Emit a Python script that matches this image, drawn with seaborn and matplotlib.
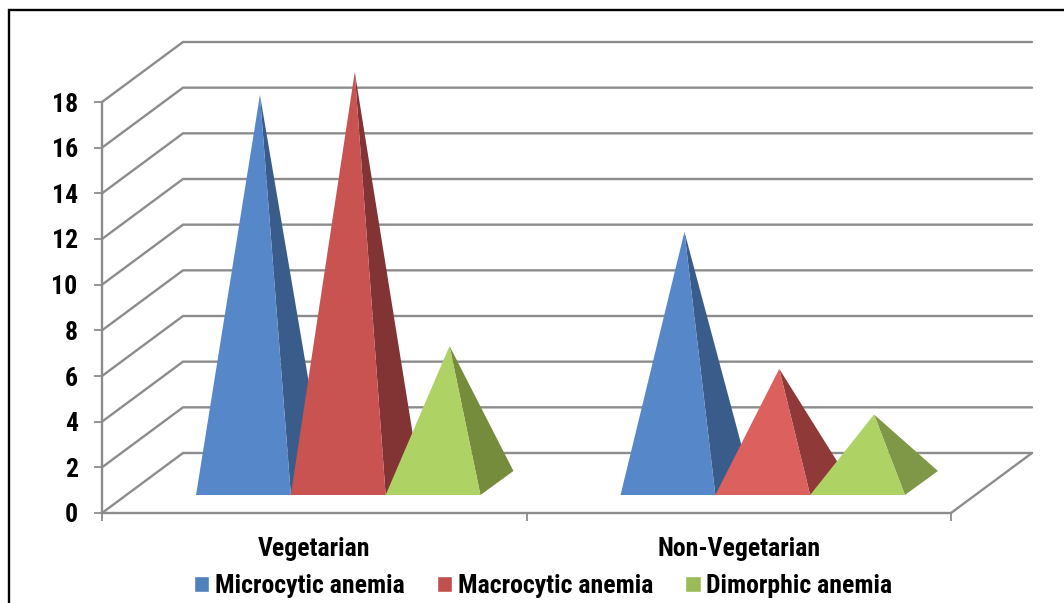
import pandas as pd
import seaborn as sns
import matplotlib.pyplot as plt
from matplotlib.lines import Line2D

categories = ["Vegetarian", "Non-Vegetarian"]
anemia_types = ["Microcytic anemia", "Macrocytic anemia", "Dimorphic anemia"]
microcytic = [17, 11]
macrocytic = [18, 5]
dimorphic = [6, 3]
y_ticks = [0, 2, 4, 6, 8, 10, 12, 14, 16, 18]

legend_colors = ["#4F81BD", "#C0504D", "#9BBB59"]
front_colors = [["#5587C9", "#5587C9"], ["#C95351", "#DC605D"], ["#AFD265", "#AFD265"]]
side_colors = [["#3A5C8A", "#3A5C8A"], ["#823333", "#8F3A38"], ["#758C3D", "#7F9848"]]
grid_color = "#8C8C8C"

W, H = 1064, 603
left, right, bottom, top = 102, 951, 513, 102

sns.set_style("white")
plt.rcParams["font.family"] = ["Roboto Condensed", "Liberation Sans", "DejaVu Sans"]

df = pd.DataFrame({
    "group": categories * 3,
    "kind": [k for k in anemia_types for _ in categories],
    "value": microcytic + macrocytic + dimorphic,
})

fig = plt.figure(figsize=(W / 100, H / 100), dpi=100)
ax = fig.add_axes([left / W, 1 - bottom / H, (right - left) / W, (bottom - top) / H])
sns.barplot(data=df, x="group", y="value", hue="kind", order=categories, hue_order=anemia_types,
            palette=legend_colors, width=0.67, gap=0, saturation=1, ax=ax)
ax.set_xlim(-0.5, 1.5)
ax.set_ylim(0, 18)
ax.set_xlabel("")
ax.set_ylabel("")

# pixel sizes of the fake 3d depth, turned into data units
px_x = 2 / (right - left)
px_y = 18 / (bottom - top)
wall_dx, wall_dy = 81 * px_x, 60 * px_y
front_dx, front_dy = 24 * px_x, 18 * px_y
base_dx, base_dy = 33 * px_x, 24 * px_y

# back wall and side wall lines
for v in y_ticks:
    ax.plot([-0.5, -0.5 + wall_dx, 1.5 + wall_dx], [v, v + wall_dy, v + wall_dy],
            color=grid_color, lw=1.7, clip_on=False, zorder=1, solid_joinstyle="miter")
ax.plot([1.5, 1.5 + wall_dx], [0, wall_dy], color=grid_color, lw=1.7, clip_on=False, zorder=1)

# pyramids are built on the seaborn bars, left to right
for c in range(len(categories)):
    for h, container in enumerate(ax.containers):
        bar = container[c]
        x0 = bar.get_x() + front_dx
        x1 = x0 + bar.get_width()
        v = bar.get_height()
        y0 = front_dy
        apex = (x0 + (x1 - x0) / 2 + base_dx / 2, y0 + base_dy / 2 + v)
        ax.fill([x1, x1 + base_dx, apex[0]], [y0, y0 + base_dy, apex[1]],
                color=side_colors[h][c], lw=0, clip_on=False, zorder=3 + c * 2 + h * 0.1)
        ax.fill([x0, x1, apex[0]], [y0, y0, apex[1]],
                color=front_colors[h][c], lw=0, clip_on=False, zorder=3.05 + c * 2 + h * 0.1)
        bar.set_visible(False)

ax.set_yticks(y_ticks)
ax.set_xticks([0, 1])
ax.set_xticklabels(categories)
ax.set_xticks([-0.5, 0.5, 1.5], minor=True)
ax.tick_params(axis="x", which="major", length=0, pad=17, labelsize=18.5)
ax.tick_params(axis="x", which="minor", length=5.5, width=1.3, color=grid_color, bottom=True)
ax.tick_params(axis="y", length=5.5, width=1.3, color=grid_color, pad=12, labelsize=18.5, left=True)
for t in ax.get_xticklabels() + ax.get_yticklabels():
    t.set_fontweight("bold")
    t.set_color("black")

sns.despine(ax=ax)
for s in ["left", "bottom"]:
    ax.spines[s].set_color(grid_color)
    ax.spines[s].set_linewidth(1.7)
ax.set_zorder(2)

sns.move_legend(ax, "center", bbox_to_anchor=(543 / W, 1 - 586 / H), bbox_transform=fig.transFigure,
                ncol=3, frameon=False, title=None, fontsize=18.5, handlelength=0.6, handleheight=0.6,
                handletextpad=0.22, columnspacing=1.25, borderpad=0, borderaxespad=0)
for t in ax.get_legend().get_texts():
    t.set_fontweight("bold")
    t.set_color("black")

# black frame, only left and top are inside the picture
fig.add_artist(Line2D([8.5 / W, 8.5 / W, 1], [0, 1 - 10 / H, 1 - 10 / H], color="black", lw=1.7,
                      transform=fig.transFigure, solid_joinstyle="miter"))

plt.savefig("out.png", dpi=100)
